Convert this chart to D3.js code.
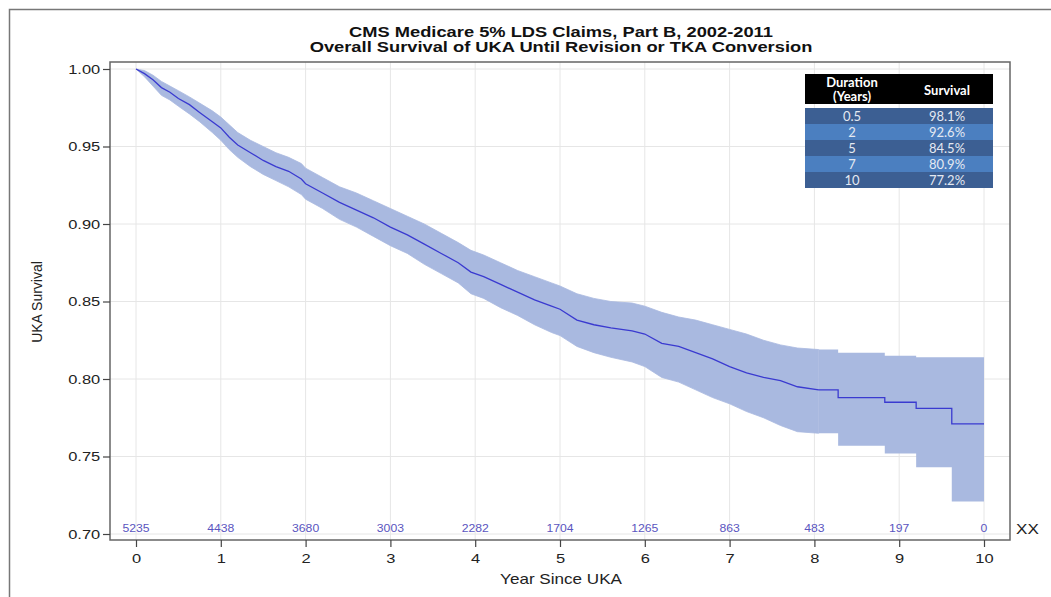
<!DOCTYPE html>
<html>
<head>
<meta charset="utf-8" />
<title>UKA Survival</title>
<style>
    body { margin: 0; background: #fff; }
    svg { display: block; }
</style>
</head>
<body>
<div id="container"></div>
<script src="https://cdn.jsdelivr.net/npm/d3@7"></script>
<script>
    // Kaplan-Meier estimate
    const years    = [0, 0.1, 0.2, 0.3, 0.4, 0.5, 0.63, 0.75, 0.9, 1.0, 1.1, 1.2, 1.35, 1.5, 1.65, 1.8, 1.95, 2.0, 2.2, 2.4, 2.6, 2.8, 3.0, 3.2, 3.4, 3.6, 3.8, 3.95, 4.1, 4.3, 4.5, 4.7, 4.9, 5.0, 5.2, 5.4, 5.6, 5.85, 6.0, 6.2, 6.4, 6.6, 6.8, 7.0, 7.2, 7.4, 7.6, 7.8, 8.05, 8.28, 8.83, 9.2, 9.62, 10]
    const survival = [1.000, 0.997, 0.993, 0.988, 0.985, 0.981, 0.977, 0.972, 0.966, 0.962, 0.956, 0.951, 0.946, 0.941, 0.937, 0.934, 0.929, 0.926, 0.920, 0.914, 0.909, 0.904, 0.898, 0.893, 0.887, 0.881, 0.875, 0.869, 0.866, 0.861, 0.856, 0.851, 0.847, 0.845, 0.838, 0.835, 0.833, 0.831, 0.829, 0.823, 0.821, 0.817, 0.813, 0.808, 0.804, 0.801, 0.799, 0.795, 0.793, 0.788, 0.785, 0.781, 0.771, 0.771]
    const lowerCL  = [1.000, 0.995, 0.989, 0.983, 0.980, 0.976, 0.971, 0.966, 0.959, 0.954, 0.948, 0.943, 0.937, 0.932, 0.928, 0.924, 0.919, 0.916, 0.910, 0.903, 0.898, 0.892, 0.886, 0.881, 0.874, 0.868, 0.862, 0.855, 0.852, 0.846, 0.841, 0.835, 0.830, 0.828, 0.821, 0.817, 0.814, 0.811, 0.808, 0.801, 0.798, 0.793, 0.788, 0.784, 0.779, 0.775, 0.770, 0.766, 0.765, 0.757, 0.752, 0.743, 0.721, 0.721]
    const upperCL  = [1.000, 0.999, 0.996, 0.992, 0.989, 0.986, 0.982, 0.978, 0.973, 0.969, 0.964, 0.959, 0.954, 0.950, 0.946, 0.943, 0.939, 0.936, 0.930, 0.924, 0.920, 0.915, 0.910, 0.905, 0.900, 0.894, 0.888, 0.883, 0.880, 0.875, 0.870, 0.866, 0.862, 0.860, 0.855, 0.852, 0.850, 0.849, 0.847, 0.843, 0.840, 0.838, 0.835, 0.832, 0.829, 0.825, 0.822, 0.820, 0.819, 0.817, 0.815, 0.814, 0.814, 0.814]
    // after this time the curve has only a few big steps
    const sparseFrom = 8.05

    // number at risk
    const atRiskYears = [0, 1, 2, 3, 4, 5, 6, 7, 8, 9, 10]
    const atRisk      = [5235, 4438, 3680, 3003, 2282, 1704, 1265, 863, 483, 197, 0]

    // inset table
    const tableDuration = ['0.5', '2', '5', '7', '10']
    const tableSurvival = ['98.1%', '92.6%', '84.5%', '80.9%', '77.2%']

    const xTicks = [0, 1, 2, 3, 4, 5, 6, 7, 8, 9, 10]
    const yTicks = [0.70, 0.75, 0.80, 0.85, 0.90, 0.95, 1.00]

    const W = 1051, H = 597
    const plot = { left: 110, top: 62, right: 1010, bottom: 540 }
    const font = '"Liberation Sans", Arial, sans-serif'
    const sx = 1.22   // the source picture is stretched sideways

    const svg = d3.select('#container').append('svg').attr('width', W).attr('height', H)

    // text helper: put text at (x, y) widened by sx
    function label(parent, x, y, txt, size, anchor, extra) {
        const t = parent.append('text')
            .attr('transform', `translate(${x}, ${y}) scale(${sx}, 1)`)
            .attr('text-anchor', anchor || 'middle')
            .style('font-family', font).style('font-size', size + 'px').style('fill', '#222')
            .text(txt)
        if (extra) extra(t)
        return t
    }

    // outer frame
    svg.append('rect').attr('x', 9.5).attr('y', 9.5).attr('width', 1100).attr('height', 700)
        .attr('fill', 'none').attr('stroke', '#777').attr('stroke-width', 1.5)

    const x = d3.scaleLinear().domain([0, 10]).range([136, 984])
    const y = d3.scaleLinear().domain([0.70, 1.00]).range([534, 69])

    // grid
    const grid = svg.append('g').attr('stroke', '#e6e6e6').attr('stroke-width', 1)
    grid.selectAll('line.v').data(xTicks).join('line').attr('class', 'v')
        .attr('x1', d => x(d)).attr('x2', d => x(d)).attr('y1', plot.top).attr('y2', plot.bottom)
    grid.selectAll('line.h').data(yTicks).join('line').attr('class', 'h')
        .attr('x1', plot.left).attr('x2', plot.right).attr('y1', d => y(d)).attr('y2', d => y(d))

    const rows = years.map((t, i) => ({ t, s: survival[i], lo: lowerCL[i], hi: upperCL[i] }))
    const dense = rows.filter(d => d.t <= sparseFrom)
    const sparse = rows.filter(d => d.t >= sparseFrom)

    const bandDense = d3.area().x(d => x(d.t)).y0(d => y(d.lo)).y1(d => y(d.hi))
    const bandStep = d3.area().curve(d3.curveStepAfter).x(d => x(d.t)).y0(d => y(d.lo)).y1(d => y(d.hi))
    const lineDense = d3.line().x(d => x(d.t)).y(d => y(d.s))
    const lineStep = d3.line().curve(d3.curveStepAfter).x(d => x(d.t)).y(d => y(d.s))

    // the dense part gets a thin stroke of its own colour to hide the join
    svg.append('path').attr('d', bandStep(sparse)).attr('fill', '#a9b9e0')
    svg.append('path').attr('d', bandDense(dense)).attr('fill', '#a9b9e0')
        .attr('stroke', '#a9b9e0').attr('stroke-width', 0.8)
    svg.append('path').attr('d', lineDense(dense) + lineStep(sparse)).attr('fill', 'none')
        .attr('stroke', '#3a3ad0').attr('stroke-width', 1.3)

    // at-risk counts
    const riskG = svg.append('g')
    atRiskYears.forEach((d, i) => label(riskG, x(d), 532, atRisk[i], 10, 'middle', t => t.style('fill', '#5a55c0')))
    label(svg, 1016, 534, 'XX', 14, 'start')

    // plot frame
    svg.append('rect').attr('x', plot.left).attr('y', plot.top)
        .attr('width', plot.right - plot.left).attr('height', plot.bottom - plot.top)
        .attr('fill', 'none').attr('stroke', '#666').attr('stroke-width', 1.5)

    // axes
    const axisY = d3.axisLeft(y).tickValues(yTicks).tickFormat(d3.format('.2f')).tickSize(7).tickPadding(1)
    const axisX = d3.axisBottom(x).tickValues(xTicks).tickSize(7).tickPadding(6)

    const gy = svg.append('g').attr('transform', `translate(${plot.left}, 0)`).call(axisY)
    const gx = svg.append('g').attr('transform', `translate(0, ${plot.bottom})`).call(axisX)
    for (const g of [gx, gy]) {
        g.select('.domain').remove()
        g.selectAll('.tick line').attr('stroke', '#444').attr('stroke-width', 1.2)
        g.selectAll('.tick text').attr('transform', `scale(${sx}, 1)`)
            .style('font-family', font).style('font-size', '13.5px').style('fill', '#222')
    }

    label(svg, 561, 584, 'Year Since UKA', 14)
    svg.append('text').attr('transform', 'translate(42, 302) rotate(-90)').attr('text-anchor', 'middle')
        .style('font-family', font).style('font-size', '14px').style('fill', '#222')
        .text('UKA Survival')

    // title
    const bold = t => t.style('font-weight', 'bold').style('fill', '#111')
    label(svg, 561, 37, 'CMS Medicare 5% LDS Claims, Part B, 2002-2011', 15, 'middle', bold)
    label(svg, 561, 52, 'Overall Survival of UKA Until Revision or TKA Conversion', 15, 'middle', bold)

    // inset table
    const tbl = { x: 805, w: 188, col1: 852, col2: 947, headTop: 74, headH: 30, rowTop: 108, rowH: 16 }
    const tfont = 'Lato, "Open Sans", sans-serif'
    const tg = svg.append('g')
    tg.append('rect').attr('x', tbl.x).attr('y', tbl.headTop).attr('width', tbl.w).attr('height', tbl.headH).attr('fill', '#000')
    const head = tg.append('g').style('font-family', tfont).style('font-weight', 'bold')
        .style('font-size', '13px').style('fill', '#fff').attr('text-anchor', 'middle')
    head.append('text').attr('x', tbl.col1).attr('y', tbl.headTop + 13).text('Duration')
    head.append('text').attr('x', tbl.col1).attr('y', tbl.headTop + 27).text('(Years)')
    head.append('text').attr('x', tbl.col2).attr('y', tbl.headTop + 21).text('Survival')

    const rowG = tg.selectAll('g.row').data(tableDuration).join('g').attr('class', 'row')
        .attr('transform', (d, i) => `translate(0, ${tbl.rowTop + i * tbl.rowH})`)
    rowG.append('rect').attr('x', tbl.x).attr('width', tbl.w).attr('height', tbl.rowH)
        .attr('fill', (d, i) => i % 2 === 0 ? '#3c5f93' : '#4b7fc0')
    rowG.append('text').attr('x', tbl.col1).attr('y', 12.5).attr('text-anchor', 'middle')
        .style('font-family', tfont).style('font-size', '13px').style('fill', '#e4e9f2')
        .text(d => d)
    rowG.append('text').attr('x', tbl.col2).attr('y', 12.5).attr('text-anchor', 'middle')
        .style('font-family', tfont).style('font-size', '13px').style('fill', '#e4e9f2')
        .text((d, i) => tableSurvival[i])
</script>
</body>
</html>
